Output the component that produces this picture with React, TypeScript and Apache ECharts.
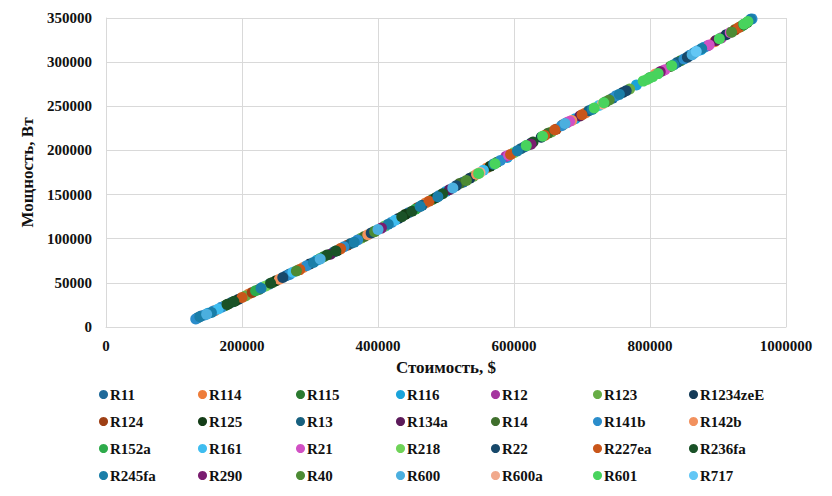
import React, { useEffect, useRef } from "react";
import * as echarts from "echarts";

type P = [number, number];

const seriesNames = [
  "R11", "R114", "R115", "R116", "R12", "R123", "R1234zeE",
  "R124", "R125", "R13", "R134a", "R14", "R141b", "R142b",
  "R152a", "R161", "R21", "R218", "R22", "R227ea", "R236fa",
  "R245fa", "R290", "R40", "R600", "R600a", "R601", "R717",
];

const seriesColors = [
  "#1F6A9A", "#EE7D3A", "#2B7A30", "#1AA3DA", "#A5359F", "#67AD46", "#143A57",
  "#9E3F14", "#143D17", "#17607F", "#5C1A5A", "#3F6F2C", "#2B8DCB", "#F2915E",
  "#2EAB4B", "#3FBDF0", "#D150C4", "#6FD358", "#17486A", "#C9561A", "#1A5227",
  "#1A7EA8", "#7A1D6F", "#4C8B34", "#4BAFDF", "#F1A98C", "#48D35D", "#63C7F5",
];

const r11: P[] = [[140000, 12500], [185000, 28000], [265000, 58000], [335000, 85000], [445000, 129500], [525000, 164000], [615000, 204000], [745000, 259000], [860000, 308000]];
const r114: P[] = [[160000, 18500], [210000, 37500], [290000, 67500], [345000, 88500], [470000, 140500], [560000, 180000], [705000, 242500], [895000, 323000]];
const r115: P[] = [[175000, 24000], [245000, 50500], [320000, 79500], [395000, 108500], [480000, 144500], [575000, 186500], [735000, 255000], [845000, 301500]];
const r116: P[] = [[150000, 15500], [230000, 45000], [310000, 75500], [410000, 114000], [500000, 153500], [590000, 192000], [690000, 236000], [780000, 274000], [875000, 314000]];
const r12: P[] = [[588000, 193000], [678000, 231500], [818000, 290000], [885000, 318500], [905000, 327500]];
const r123: P[] = [[205000, 35000], [283000, 64500], [375000, 100500], [540000, 170500], [655000, 221000], [770000, 269500], [925000, 337000]];
const r1234zeE: P[] = [[195000, 31500], [300000, 71500], [430000, 123000], [535000, 168500], [640000, 215000], [760000, 265500], [912000, 331000]];
const r124: P[] = [[215000, 39000], [355000, 92500], [458000, 135000], [662000, 224000], [672000, 229000], [925000, 336500], [933000, 340000]];
const r125: P[] = [[180000, 26000], [190000, 29500], [250000, 52500], [340000, 86500], [440000, 127500], [485000, 146500], [565000, 182000], [943000, 345000]];
const r13: P[] = [[135000, 10500], [270000, 60000], [360000, 94500], [465000, 138000], [610000, 202000], [710000, 245000], [840000, 299500]];
const r134a: P[] = [[330000, 82500], [505000, 155500], [697000, 239000], [897000, 324500]];
const r14: P[] = [[225000, 42500], [380000, 102500], [520000, 162500], [650000, 219500], [830000, 295000]];
const r141b: P[] = [[132000, 9000], [145000, 13500], [158000, 18000], [170000, 22500], [240000, 48500], [270000, 59500], [295000, 69500], [350000, 91000], [370000, 98500], [420000, 118500], [490000, 149000], [580000, 188500], [670000, 228000], [750000, 262000], [850000, 303500], [858000, 307500], [870000, 313000], [880000, 317000], [950000, 349000]];
const r142b: P[] = [[255000, 54000], [385000, 104500], [545000, 173000], [685000, 234000], [808000, 286500]];
const r152a: P[] = [[220000, 41000], [315000, 77500], [455000, 133500], [620000, 206000], [800000, 282500], [935000, 341000]];
const r161: P[] = [[165000, 20500], [275000, 62000], [425000, 121000], [555000, 177500], [725000, 251000]];
const r21: P[] = [[592000, 194500], [682000, 233000], [822000, 291500], [887000, 319500], [918000, 333500]];
const r218: P[] = [[235000, 46500], [410000, 114500], [600000, 197500], [795000, 280000], [940000, 343500]];
const r22: P[] = [[260000, 56000], [390000, 106500], [515000, 160000], [625000, 208000], [765000, 267500], [855000, 305500]];
const r227ea: P[] = [[200000, 33500], [285000, 65000], [345000, 89000], [475000, 142500], [595000, 195500], [645000, 217000], [660000, 223500], [700000, 240500], [930000, 339000]];
const r236fa: P[] = [[178000, 25500], [188000, 29000], [242000, 49500], [325000, 81500], [338000, 86000], [435000, 125000], [450000, 131000], [495000, 151000], [628000, 209500], [938000, 342500]];
const r245fa: P[] = [[138000, 11500], [155000, 16500], [228000, 44000], [305000, 73000], [365000, 96000], [415000, 116500], [462000, 136500], [488000, 147500], [570000, 184500], [605000, 199500], [715000, 246500], [755000, 263500], [835000, 297000], [865000, 310500], [876000, 315500], [948000, 348500]];
const r290: P[] = [[405000, 112000], [625000, 207000], [815000, 289000]];
const r40: P[] = [[280000, 63500], [395000, 108000], [530000, 166000], [740000, 257000], [920000, 334000]];
const r600: P[] = [[148000, 14500], [315000, 77000], [400000, 110500], [510000, 157500], [675000, 230500], [862000, 308500]];
const r600a: P[] = [[550000, 175000], [730000, 252500]];
const r601: P[] = [[548000, 174000], [572000, 185000], [618000, 205500], [642000, 216000], [718000, 248000], [732000, 254000], [790000, 278500], [798000, 281500], [804000, 283500], [812000, 287000], [832000, 296000], [902000, 326500], [938000, 343000], [944000, 346000]];
const r717: P[] = [[868000, 312000]];

const seriesData: P[][] = [
  r11, r114, r115, r116, r12, r123, r1234zeE,
  r124, r125, r13, r134a, r14, r141b, r142b,
  r152a, r161, r21, r218, r22, r227ea, r236fa,
  r245fa, r290, r40, r600, r600a, r601, r717,
];

const xTicks = { min: 0, max: 1000000, interval: 200000 };
const yTicks = { min: 0, max: 350000, interval: 50000 };

const FONT = "'Liberation Serif', 'Times New Roman', serif";

export default function App() {
  const ref = useRef<HTMLDivElement>(null);

  useEffect(() => {
    document.body.style.margin = "0";
    if (!ref.current) return;
    const chart = echarts.init(ref.current, undefined, { renderer: "svg" });

    const cols = 7;
    const colX = [99, 198, 296, 396, 491, 593, 689];
    const legends = colX.map((x, c) => ({
      orient: "vertical" as const,
      left: x,
      top: 387,
      padding: 0,
      itemGap: 12,
      itemWidth: 9,
      itemHeight: 9,
      icon: "circle",
      selectedMode: false,
      data: [0, 1, 2, 3]
        .map((r) => seriesNames[r * cols + c])
        .filter((n) => n !== undefined),
      textStyle: {
        fontFamily: FONT,
        fontWeight: "bold" as const,
        fontSize: 15,
        lineHeight: 15,
        color: "#111",
        padding: [0, 0, 0, -3],
      },
    }));

    chart.setOption({
      animation: false,
      backgroundColor: "#ffffff",
      grid: { left: 106, right: 46, top: 18, bottom: 169, containLabel: false },
      legend: legends,
      xAxis: {
        type: "value",
        min: xTicks.min,
        max: xTicks.max,
        interval: xTicks.interval,
        name: "Стоимость, $",
        nameLocation: "middle",
        nameGap: 32,
        nameTextStyle: { fontFamily: FONT, fontWeight: "bold", fontSize: 17, color: "#111" },
        axisLine: { show: true, lineStyle: { color: "#d9d9d9", width: 1 } },
        axisTick: { show: false },
        axisLabel: {
          fontFamily: FONT,
          fontWeight: "bold",
          fontSize: 15,
          color: "#111",
          margin: 11,
          formatter: (v: number) => String(v),
        },
        splitLine: { show: true, lineStyle: { color: "#d9d9d9", width: 1 } },
      },
      yAxis: {
        type: "value",
        min: yTicks.min,
        max: yTicks.max,
        interval: yTicks.interval,
        name: "Мощность, Вт",
        nameLocation: "middle",
        nameGap: 68,
        nameTextStyle: { fontFamily: FONT, fontWeight: "bold", fontSize: 17, color: "#111" },
        axisLine: { show: true, lineStyle: { color: "#d9d9d9", width: 1 } },
        axisTick: { show: false },
        axisLabel: {
          fontFamily: FONT,
          fontWeight: "bold",
          fontSize: 15,
          color: "#111",
          margin: 14,
          formatter: (v: number) => String(v),
        },
        splitLine: { show: true, lineStyle: { color: "#d9d9d9", width: 1 } },
      },
      series: seriesNames.map((name, i) => ({
        name,
        type: "scatter",
        data: seriesData[i],
        symbol: "circle",
        symbolSize: 11,
        itemStyle: { color: seriesColors[i], opacity: 1 },
        emphasis: { disabled: true },
      })),
    });

    return () => chart.dispose();
  }, []);

  return (
    <div
      ref={ref}
      style={{ position: "absolute", left: 0, top: 0, width: 832, height: 496 }}
    />
  );
}
